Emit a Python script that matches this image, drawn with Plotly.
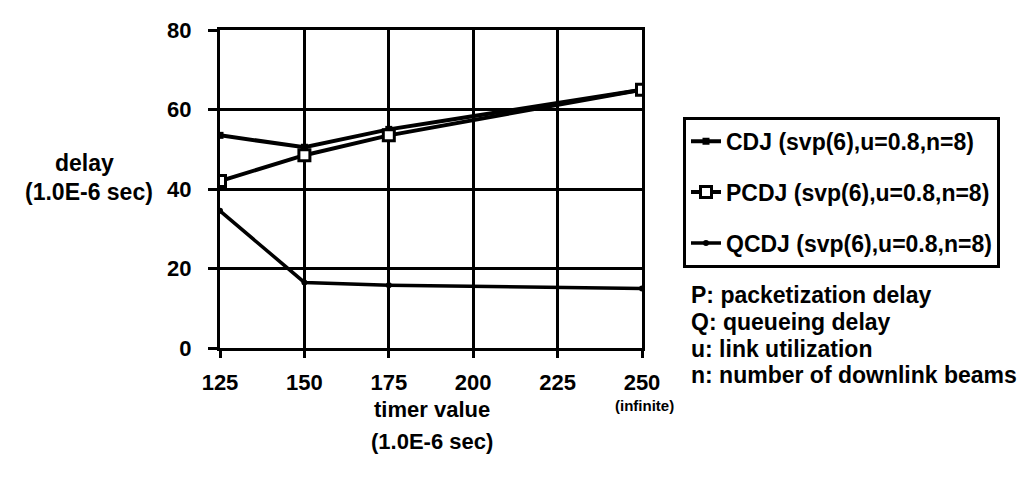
import plotly.graph_objects as go

# timer value (1.0E-6 sec); 250 stands for "infinite"
timer_values = [125, 150, 175, 250]

cdj_delay = [53.5, 50.5, 55.0, 65.0]
pcdj_delay = [42.0, 48.5, 53.5, 65.0]
qcdj_delay = [34.5, 16.5, 15.8, 15.0]

series_names = [
    "CDJ (svp(6),u=0.8,n=8)",
    "PCDJ (svp(6),u=0.8,n=8)",
    "QCDJ (svp(6),u=0.8,n=8)",
]

x_ticks = [125, 150, 175, 200, 225, 250]
y_ticks = [0, 20, 40, 60, 80]

notes = [
    "P: packetization delay",
    "Q: queueing delay",
    "u: link utilization",
    "n: number of downlink beams",
]

FONT = "Liberation Sans, Arial, sans-serif"
W, H = 1025, 475   # page body keeps an 8px margin

# plot area in pixels, used to place the free text
L, R, T, B = 212, 634, 10, 340


def px(x, y):
    return (x - L) / (R - L), (B - y) / (B - T)


fig = go.Figure()

fig.add_trace(go.Scatter(
    x=timer_values, y=cdj_delay, name=series_names[0],
    mode="lines+markers", legendgroup="a",
    line=dict(color="black", width=4),
    marker=dict(symbol="square", size=7, color="black"),
))
fig.add_trace(go.Scatter(
    x=timer_values, y=pcdj_delay, name=series_names[1],
    mode="lines+markers", legendgroup="b",
    line=dict(color="black", width=4),
    marker=dict(symbol="square", size=11, color="white",
                line=dict(color="black", width=3)),
))
fig.add_trace(go.Scatter(
    x=timer_values, y=qcdj_delay, name=series_names[2],
    mode="lines+markers", legendgroup="c",
    line=dict(color="black", width=3.5),
    marker=dict(symbol="circle", size=6, color="black"),
))

annotations = []


def text(x, y, s, size, anchor="center"):
    xp, yp = px(x, y)
    annotations.append(dict(
        x=xp, y=yp, xref="paper", yref="paper", text="<b>" + s + "</b>",
        showarrow=False, xanchor=anchor, yanchor="middle",
        font=dict(family=FONT, size=size, color="black"),
    ))


text(76, 148, "delay", 23)
text(81, 178, "(1.0E-6 sec)", 23)
text(424, 404, "timer value", 22)
text(424, 437, "(1.0E-6 sec)", 22)
text(636, 400, "(infinite)", 15)

note_y = [285, 313, 341, 368]
for s, y in zip(notes, note_y):
    text(681, y, s, 23, anchor="left")

fig.update_layout(annotations=annotations)

lx, ly = px(675, 100)
fig.update_layout(
    width=W, height=H,
    margin=dict(l=L, r=W - R, t=T, b=H - B),
    paper_bgcolor="white", plot_bgcolor="white",
    font=dict(family=FONT, size=20, color="black", weight="bold"),
    showlegend=True,
    legend=dict(
        x=lx, y=ly, xanchor="left", yanchor="top",
        bordercolor="black", borderwidth=3, bgcolor="white",
        font=dict(family=FONT, size=23, color="black", weight="bold"),
        tracegroupgap=18, itemwidth=30,
    ),
    xaxis=dict(
        range=[125, 250], tickvals=x_ticks,
        showgrid=True, gridcolor="black", gridwidth=3,
        showline=True, mirror=True, linecolor="black", linewidth=3,
        ticks="outside", ticklen=7, tickwidth=3, tickcolor="black",
        tickfont=dict(size=22, weight="bold"), ticklabelstandoff=6,
        zeroline=False,
    ),
    yaxis=dict(
        range=[0, 80], tickvals=y_ticks,
        showgrid=True, gridcolor="black", gridwidth=3,
        showline=True, mirror=True, linecolor="black", linewidth=3,
        ticks="outside", ticklen=9, tickwidth=3, tickcolor="black",
        tickfont=dict(size=22, weight="bold"), ticklabelstandoff=12,
        zeroline=False,
    ),
)

fig.write_html("out.html")
